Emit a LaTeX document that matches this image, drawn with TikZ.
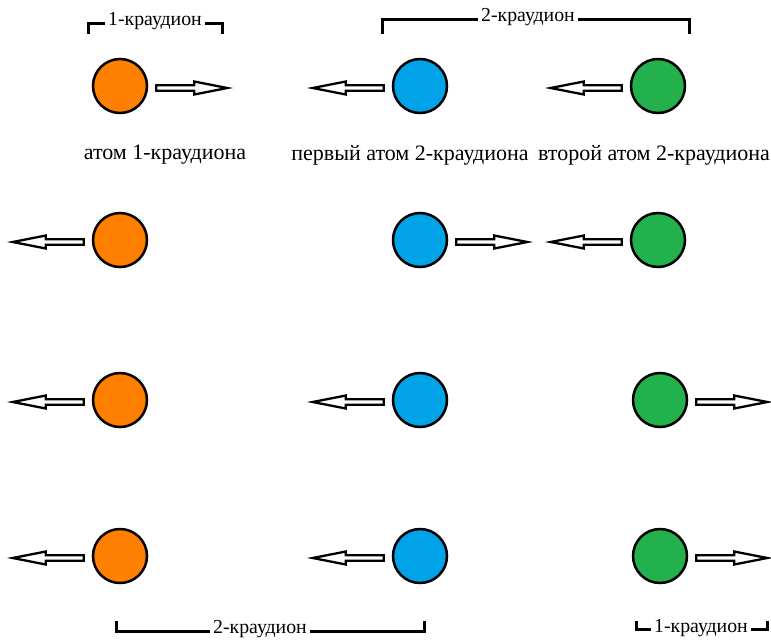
\documentclass[tikz,border=0pt]{standalone}
\usepackage{fontspec}
\setmainfont{Liberation Serif}
\definecolor{atomorange}{HTML}{FF8000}
\definecolor{atomblue}{HTML}{00A2E8}
\definecolor{atomgreen}{HTML}{22B14C}
\tikzset{
  atom/.style={circle, draw=black, line width=2.5pt, minimum size=54pt, inner sep=0pt},
  orangeatom/.style={atom, fill=atomorange},
  blueatom/.style={atom, fill=atomblue},
  greenatom/.style={atom, fill=atomgreen},
  barrow/.style={draw=black, fill=white, line width=2.3pt, line join=miter},
  brk/.style={draw=black, line width=3pt, line cap=butt},
  lbl/.style={font=\fontsize{22}{26}\selectfont, inner sep=1pt},
  brklbl/.style={font=\fontsize{19.8}{24}\selectfont, inner sep=3pt, fill=white}
}
% right-pointing arrow starting at anchor #1
\newcommand{\arrR}[1]{\draw[barrow] (#1) ++(8,2) -- ++(0,-2.8) -- ++(38,0) -- ++(0,-3.7) -- ++(33,6.5) -- ++(-33,6.5) -- ++(0,-3.7) -- ++(-38,0) -- cycle;}
% left-pointing arrow ending at anchor #1
\newcommand{\arrL}[1]{\draw[barrow] (#1) ++(-8,2) -- ++(0,-2.8) -- ++(-38,0) -- ++(0,-3.7) -- ++(-33,6.5) -- ++(33,6.5) -- ++(0,-3.7) -- ++(38,0) -- cycle;}
\begin{document}
\begin{tikzpicture}[x=1pt, y=-1pt]
\useasboundingbox (0,0) rectangle (771,643);
% row 1
\node[orangeatom] (o1) at (120,86) {};
\node[blueatom] (b1) at (420,86) {};
\node[greenatom] (g1) at (658,86) {};
\arrR{o1.east}
\arrL{b1.west}
\arrL{g1.west}
% row 2
\node[orangeatom] (o2) at (120,240) {};
\node[blueatom] (b2) at (420,240) {};
\node[greenatom] (g2) at (658,240) {};
\arrL{o2.west}
\arrR{b2.east}
\arrL{g2.west}
% row 3
\node[orangeatom] (o3) at (120,400) {};
\node[blueatom] (b3) at (420,400) {};
\node[greenatom] (g3) at (660,400) {};
\arrL{o3.west}
\arrL{b3.west}
\arrR{g3.east}
% row 4
\node[orangeatom] (o4) at (120,556) {};
\node[blueatom] (b4) at (420,556) {};
\node[greenatom] (g4) at (660,556) {};
\arrL{o4.west}
\arrL{b4.west}
\arrR{g4.east}
% labels
\node[lbl] (l1) at (165,155) {атом 1-краудиона};
\node[lbl] (l2) at (410,155) {первый атом 2-краудиона};
\node[lbl] (l3) at (654,155) {второй атом 2-краудиона};
% bracket top-left
\coordinate (tlA) at (88,34);
\coordinate (tlB) at (88,23);
\coordinate (tlC) at (222,23);
\coordinate (tlD) at (222,34);
\draw[brk] (tlA) -- (tlB) -- (tlC) -- (tlD);
\node[brklbl] (t1) at (155,21) {1-краудион};
% bracket top-right
\coordinate (trA) at (382,34);
\coordinate (trB) at (382,19);
\coordinate (trC) at (689,19);
\coordinate (trD) at (689,34);
\draw[brk] (trA) -- (trB) -- (trC) -- (trD);
\node[brklbl] (t2) at (528,17) {2-краудион};
% bracket bottom-left
\coordinate (blA) at (116,621);
\coordinate (blB) at (116,631);
\coordinate (blC) at (424,631);
\coordinate (blD) at (424,621);
\draw[brk] (blA) -- (blB) -- (blC) -- (blD);
\node[brklbl] (t3) at (260,629) {2-краудион};
% bracket bottom-right
\coordinate (brA) at (636,621);
\coordinate (brB) at (636,629);
\coordinate (brC) at (767,629);
\coordinate (brD) at (767,621);
\draw[brk] (brA) -- (brB) -- (brC) -- (brD);
\node[brklbl] (t4) at (701,628) {1-краудион};
\end{tikzpicture}
\end{document}
